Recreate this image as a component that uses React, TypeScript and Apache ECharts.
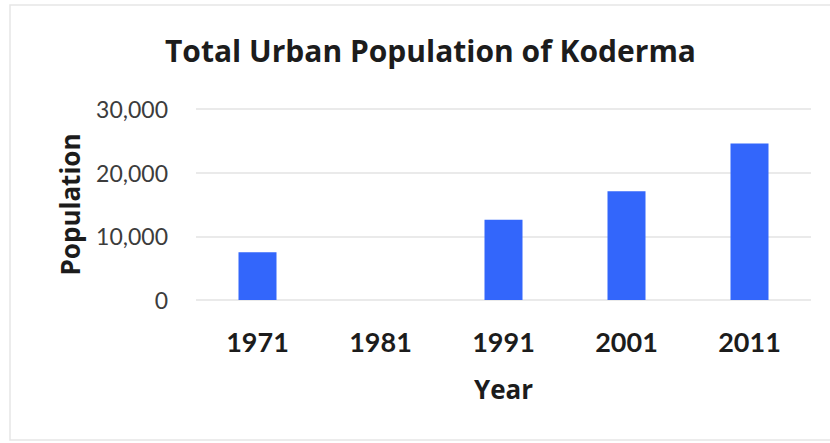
import React, { useEffect, useRef } from "react";
import * as echarts from "echarts";

const years = ["1971", "1981", "1991", "2001", "2011"];
const population: (number | null)[] = [7500, null, 12600, 17100, 24600];
const yTicks = [0, 10000, 20000, 30000];

const FONT = "Lato, 'Open Sans', sans-serif";
const WIDE = "'Open Sans', Lato, sans-serif";

export default function App() {
  const ref = useRef<HTMLDivElement>(null);
  useEffect(() => {
    if (!ref.current) return;
    const chart = echarts.init(ref.current, undefined, { renderer: "svg" });
    chart.setOption({
      animation: false,
      backgroundColor: "#ffffff",
      title: {
        text: "Total Urban Population of Koderma",
        left: 160,
        top: 30,
        textStyle: { fontFamily: WIDE, fontWeight: "bold", fontSize: 30, color: "#1c1c1c" },
      },
      graphic: [
        {
          type: "rect",
          shape: { x: 10, y: 5, width: 830, height: 435 },
          style: { fill: "none", stroke: "#e6e6e6", lineWidth: 1.5 },
          silent: true,
        },
      ],
      grid: { left: 196, right: 19, top: 109, bottom: 143 },
      xAxis: {
        type: "category",
        data: years,
        axisLine: { show: false },
        axisTick: { show: false },
        axisLabel: {
          fontFamily: FONT,
          fontWeight: "bold",
          fontSize: 27,
          color: "#1c1c1c",
          margin: 28,
        },
        name: "Year",
        nameLocation: "middle",
        nameGap: 76,
        nameTextStyle: { fontFamily: WIDE, fontWeight: "bold", fontSize: 26, color: "#1c1c1c" },
      },
      yAxis: {
        type: "value",
        min: yTicks[0],
        max: yTicks[yTicks.length - 1],
        interval: yTicks[1] - yTicks[0],
        axisLine: { show: false },
        axisTick: { show: false },
        splitLine: { lineStyle: { color: "#e3e3e3", width: 1.5 } },
        axisLabel: {
          fontFamily: FONT,
          fontSize: 23,
          color: "#3c3c3c",
          margin: 28,
          formatter: (v: number) => v.toLocaleString("en-US"),
        },
        name: "Population",
        nameLocation: "middle",
        nameGap: 113,
        nameRotate: 90,
        nameTextStyle: { fontFamily: WIDE, fontWeight: "bold", fontSize: 26, color: "#1c1c1c" },
      },
      series: [
        {
          type: "bar",
          data: population,
          barWidth: 38,
          itemStyle: { color: "#3366fb" },
        },
      ],
    });
    return () => chart.dispose();
  }, []);
  return (
    <div
      ref={ref}
      style={{ position: "fixed", left: 0, top: 0, width: 830, height: 443 }}
    />
  );
}
